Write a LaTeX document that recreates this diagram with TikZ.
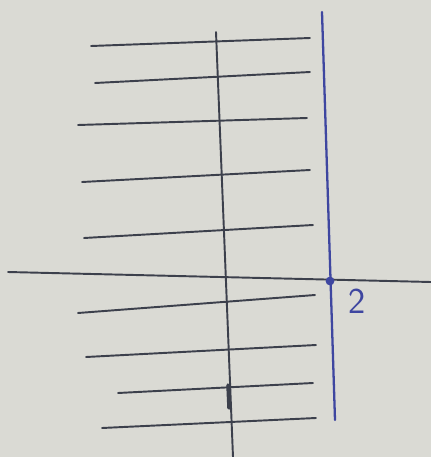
\documentclass[tikz,border=0pt]{standalone}
\usepackage{tikz}
\usetikzlibrary{positioning, calc}

\definecolor{paper}{RGB}{218,218,212}
\definecolor{pencil}{RGB}{60,64,76}
\definecolor{inkblue}{RGB}{62,70,160}

\begin{document}
\begin{tikzpicture}[x=0.02cm, y=-0.02cm, line cap=round]
        % Define styles
        \tikzset{axisline/.style={draw=pencil, line width=1.1pt},
                 hatchline/.style={draw=pencil, line width=1.1pt},
                 boundline/.style={draw=inkblue, line width=1.3pt}}

        % Paper background
        \fill[paper] (0,0) rectangle (431,457);
        \useasboundingbox (0,0) rectangle (431,457);

        % Hatch lines of the region
        \foreach \xa/\ya/\xb/\yb in {91/46/310/38, 95/83/310/72, 78/125/307/118,
                82/182/310/170, 84/238/313/225, 78/313/315/295,
                86/357/316/345, 118/393/313/383, 102/428/316/418}
            \draw[hatchline] (\xa,\ya) -- (\xb,\yb);

        % Axes
        \coordinate (x_left) at (8,272);
        \coordinate (x_right) at (431,282);
        \coordinate (y_top) at (216,32);
        \coordinate (y_bottom) at (233,457);
        \draw[axisline] (x_left) -- (x_right);
        \draw[axisline] (y_top) -- (y_bottom);
        \draw[pencil, line width=2pt] (228,385) -- (229,408);

        % Boundary line x = 2
        \coordinate (b_top) at (322,12);
        \coordinate (b_bottom) at (335,420);
        \draw[boundline] (b_top) -- (b_bottom);
        \node[circle, fill=inkblue, inner sep=0pt, minimum size=5pt] (two_dot) at (330,281) {};
        \node[text=inkblue, font=\sffamily\huge] (two_label) at (357,301) {2};
    \end{tikzpicture}
\end{document}
